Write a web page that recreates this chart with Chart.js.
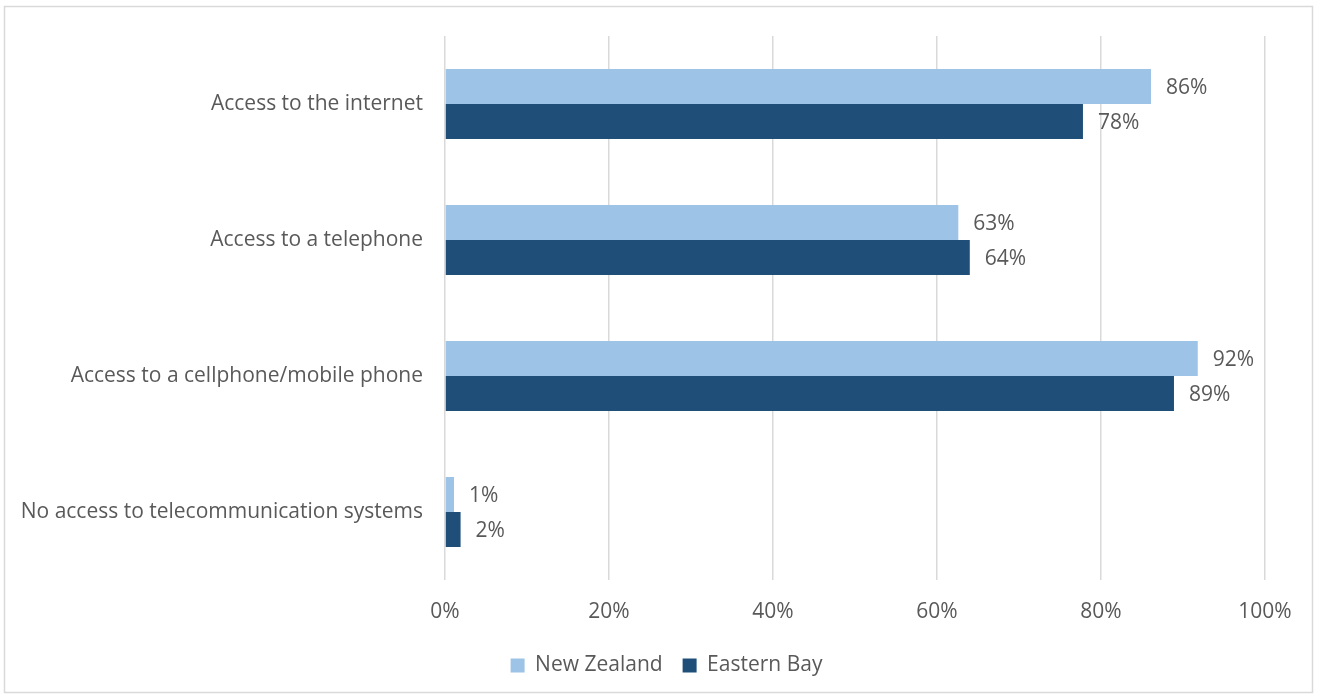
<!DOCTYPE html>
<html>
<head>
<meta charset="utf-8">
<script src="https://cdn.jsdelivr.net/npm/chart.js@4/dist/chart.umd.min.js"></script>
<style>
  html, body { margin: 0; padding: 0; background: #fff; }
  #wrap { width: 1317px; height: 697px; }
</style>
</head>
<body>
<div id="wrap"><canvas id="accessChart" width="1317" height="697"></canvas></div>
<script>
const categories = [
    'Access to the internet',
    'Access to a telephone',
    'Access to a cellphone/mobile phone',
    'No access to telecommunication systems'
];
const newZealand = [86.1, 62.6, 91.8, 1.1];
const easternBay = [77.8, 64.0, 88.9, 1.9];
const xTicks = [0, 20, 40, 60, 80, 100];

const textColor = '#595959';
const fontFamily = '"Open Sans", sans-serif';
const fontSize = 21;

// draws the "86%" style labels at the end of each bar
const barLabels = {
    id: 'barLabels',
    afterDatasetsDraw(chart) {
        const ctx = chart.ctx;
        ctx.save();
        ctx.font = fontSize + 'px ' + fontFamily;
        ctx.fillStyle = textColor;
        ctx.textBaseline = 'middle';
        ctx.textAlign = 'left';
        chart.data.datasets.forEach((ds, i) => {
            chart.getDatasetMeta(i).data.forEach((bar, j) => {
                ctx.fillText(Math.round(ds.data[j]) + '%', bar.x + 15, bar.y + 2);
            });
        });
        ctx.restore();
    }
};

// thin frame around the whole chart
const frame = {
    id: 'frame',
    beforeDraw(chart) {
        const ctx = chart.ctx;
        ctx.save();
        ctx.strokeStyle = '#d9d9d9';
        ctx.lineWidth = 1.5;
        ctx.strokeRect(4.5, 6.5, 1308, 686);
        ctx.restore();
    }
};

// legend sits a bit right of the canvas centre in the original
const legendShift = {
    id: 'legendShift',
    afterLayout(chart) {
        chart.legend.left += 24;
        chart.legend.right += 24;
    }
};

Chart.defaults.font.family = fontFamily;
Chart.defaults.color = textColor;

const ctx = document.getElementById('accessChart').getContext('2d');
new Chart(ctx, {
    type: 'bar',
    data: {
        labels: categories,
        datasets: [{
            label: 'New Zealand',
            data: newZealand,
            backgroundColor: '#9DC3E6',
            categoryPercentage: 0.515,
            barPercentage: 1.0
        }, {
            label: 'Eastern Bay',
            data: easternBay,
            backgroundColor: '#1F4E79',
            categoryPercentage: 0.515,
            barPercentage: 1.0
        }]
    },
    options: {
        indexAxis: 'y',
        responsive: false,
        animation: false,
        layout: {
            padding: { left: 20, right: 52, top: 36, bottom: 11 }
        },
        scales: {
            x: {
                min: 0,
                max: 100,
                afterBuildTicks: (scale) => {
                    scale.ticks = xTicks.map(v => ({ value: v }));
                },
                ticks: {
                    font: { size: fontSize },
                    padding: 19,
                    callback: (v) => v + '%'
                },
                grid: { color: '#d9d9d9', lineWidth: 1.5, drawTicks: false },
                border: { display: false },
                afterFit: (scale) => { scale.height = 55; }
            },
            y: {
                ticks: {
                    font: { size: fontSize },
                    padding: 22
                },
                grid: { display: false, drawTicks: false },
                border: { display: false },
                afterFit: (scale) => { scale.width = 425; }
            }
        },
        plugins: {
            legend: {
                position: 'bottom',
                labels: {
                    font: { size: fontSize },
                    boxWidth: 14,
                    boxHeight: 14,
                    padding: 20
                }
            },
            tooltip: { enabled: false }
        }
    },
    plugins: [barLabels, frame, legendShift]
});
</script>
</body>
</html>
